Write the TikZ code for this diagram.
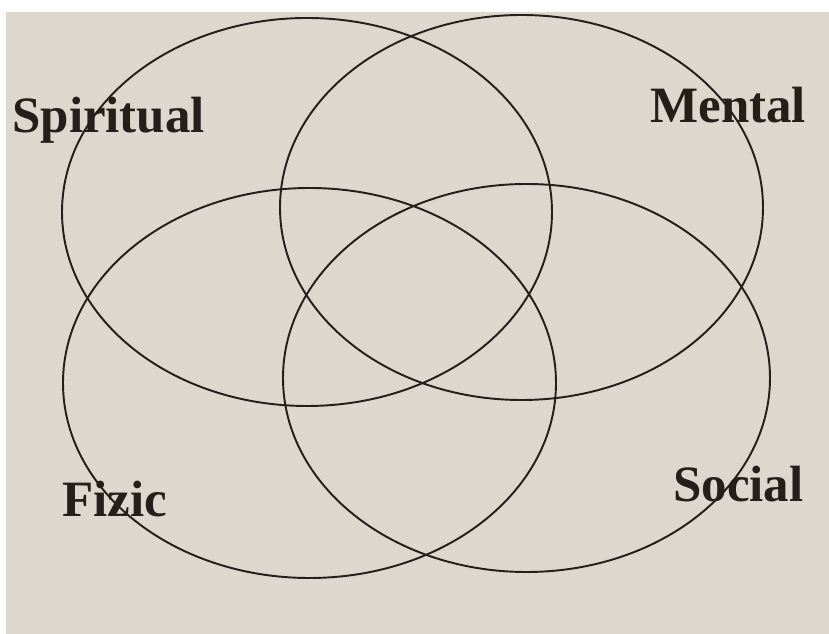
\documentclass[tikz,border=0pt]{standalone}
\usepackage{fontspec}
\setmainfont{Liberation Serif}
\usepackage{xcolor}
\definecolor{paper}{RGB}{221,215,205}
\definecolor{ink}{RGB}{38,30,26}
\usetikzlibrary{positioning}

\begin{document}
\begin{tikzpicture}[x=0.02cm, y=0.02cm,
      ring/.style={draw=ink, line width=1.1pt},
      lbl/.style={anchor=base west, inner sep=0pt, text=ink,
                  font=\fontsize{29}{34}\selectfont\bfseries}]
    \useasboundingbox (0,0) rectangle (829,-634);
    \fill[white] (0,0) rectangle (829,-634);
    \fill[paper] (6,-12) rectangle (829,-634);
    % the four areas
    \draw[ring] (307,-212)   ellipse [x radius=245,   y radius=194];
    \draw[ring] (521.5,-207.5) ellipse [x radius=241.5, y radius=192.5];
    \draw[ring] (309.5,-383) ellipse [x radius=246.5, y radius=195];
    \draw[ring] (526.5,-378) ellipse [x radius=243.5, y radius=194];
    % names
    \node[lbl] (spiritual) at (12,-133)  {Spiritual};
    \node[lbl] (mental)    at (650,-123) {Mental};
    \node[lbl] (fizic)     at (62,-517)  {Fizic};
    \node[lbl] (social)    at (673,-502) {Social};
  \end{tikzpicture}
\end{document}
